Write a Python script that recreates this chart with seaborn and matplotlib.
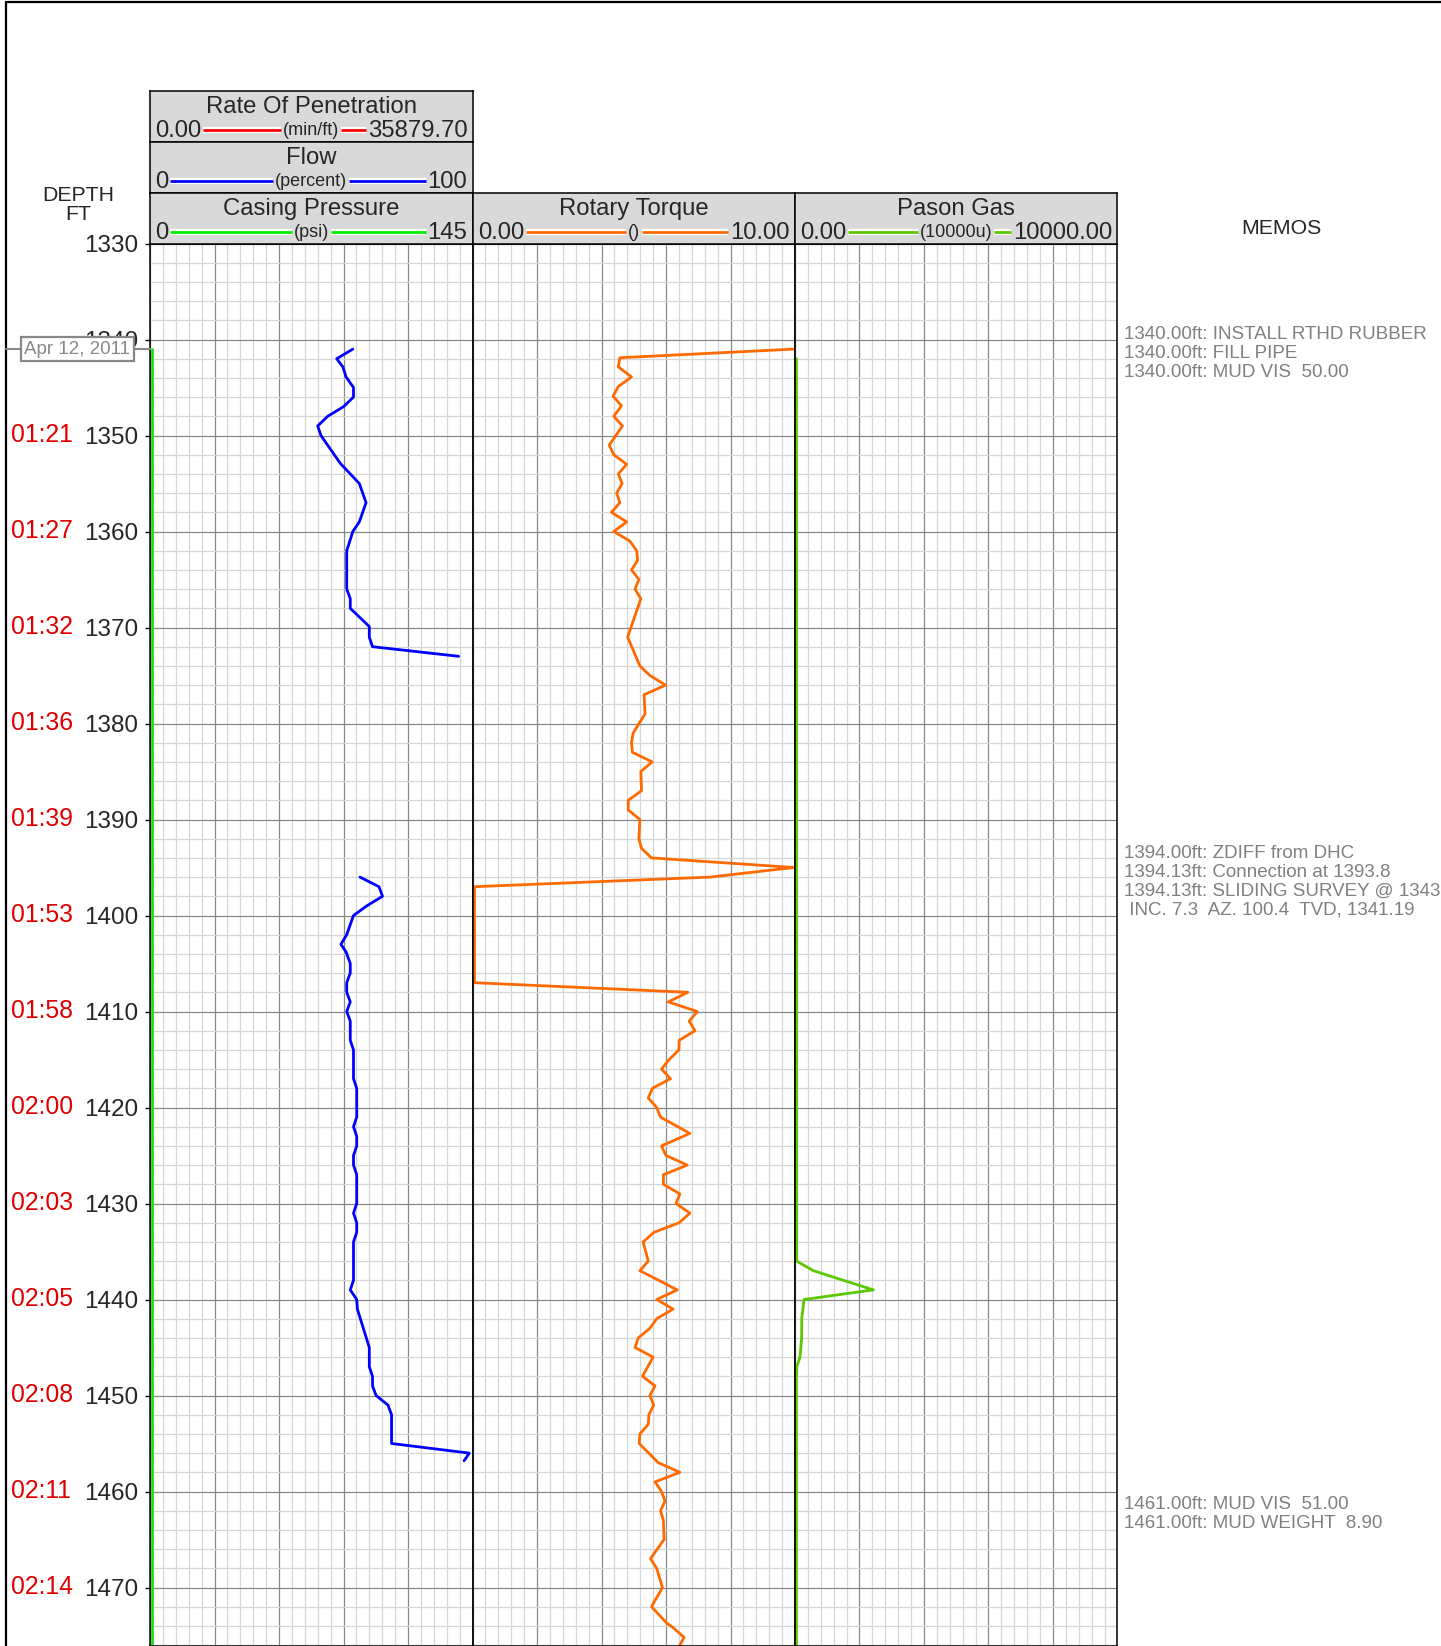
import matplotlib
matplotlib.use("Agg")
import pandas as pd
import matplotlib.pyplot as plt
import matplotlib.patheffects as pe
from matplotlib.lines import Line2D
from matplotlib.transforms import blended_transform_factory
import seaborn as sns

sns.set_style("white")
plt.rcParams['font.family'] = ['Liberation Sans', 'DejaVu Sans']

# Flow (percent), two drilled runs
flow_run1_depth = [1341, 1342, 1342.85, 1343.9, 1345, 1346, 1347, 1348, 1349, 1350, 1352.9, 1355,
                   1357, 1359, 1360, 1362, 1366, 1367, 1368, 1369.9, 1371, 1372, 1373]
flow_run1_pct = [62.9, 57.9, 59.8, 60.8, 63.1, 63.1, 60.0, 55.1, 52.0, 53.0, 59.0, 64.9,
                 67.0, 64.9, 62.9, 61.0, 61.0, 62.1, 62.1, 68.0, 68.0, 69.0, 95.7]
flow_run2_depth = [1396, 1397, 1398, 1399, 1400, 1402, 1403, 1403.8, 1405, 1406, 1407, 1408, 1409,
                   1410, 1411, 1413, 1414, 1417, 1418, 1421, 1422, 1423, 1424, 1425, 1426, 1427,
                   1430, 1431, 1432, 1433, 1434, 1438, 1439, 1440, 1441, 1445, 1447, 1448, 1449,
                   1450, 1451, 1452, 1455, 1456, 1456.8]
flow_run2_pct = [65.1, 71.0, 72.1, 67.2, 63.1, 61.0, 59.2, 60.8, 62.1, 62.1, 61.0, 61.0, 62.1,
                 61.0, 62.1, 62.1, 63.1, 63.1, 64.1, 64.1, 63.1, 64.1, 64.1, 63.1, 63.1, 64.1,
                 64.1, 63.1, 64.1, 64.1, 63.1, 63.1, 62.1, 64.1, 64.3, 68.0, 68.0, 69.0, 69.0,
                 70.1, 73.8, 74.9, 74.9, 99.0, 97.4]

# Rotary torque
torque_depth = [1341.0, 1341.9, 1342.85, 1343.9, 1344.9, 1345.9, 1346.9, 1348, 1349, 1351, 1352,
                1353, 1354, 1355, 1356, 1357, 1358, 1359, 1360, 1361, 1362, 1363, 1364, 1365,
                1366, 1367, 1371, 1374, 1375, 1376, 1377, 1379, 1381, 1382, 1383, 1384, 1385,
                1387, 1388, 1389, 1390, 1392, 1393, 1394, 1395, 1396, 1397, 1407, 1408, 1409,
                1410, 1411, 1412, 1413, 1414, 1415, 1416, 1417, 1418, 1419, 1420, 1421, 1422.7,
                1424, 1425, 1426, 1427, 1428, 1429, 1430, 1431, 1432, 1433, 1434, 1436, 1437,
                1439, 1440, 1441, 1442, 1443, 1444, 1445, 1446, 1448, 1449, 1450, 1451, 1452,
                1453, 1454, 1455, 1457, 1458, 1459, 1460, 1461, 1462, 1463, 1465, 1467, 1468,
                1470, 1472, 1473.7, 1474.2, 1475.2, 1476]
torque_val = [9.97, 4.57, 4.52, 4.93, 4.52, 4.36, 4.62, 4.38, 4.65, 4.24, 4.38,
              4.78, 4.52, 4.64, 4.47, 4.57, 4.31, 4.78, 4.38, 4.88, 5.09, 5.12, 4.93, 5.16,
              5.04, 5.22, 4.81, 5.19, 5.50, 5.99, 5.32, 5.35, 4.98, 4.93, 4.96, 5.57, 5.22,
              5.24, 4.83, 4.83, 5.19, 5.16, 5.24, 5.55, 9.97, 7.36, 0.06, 0.06, 6.68, 6.07,
              6.97, 6.72, 6.90, 6.41, 6.40, 6.10, 5.86, 6.14, 5.58, 5.45, 5.71, 5.83, 6.74,
              5.86, 6.00, 6.66, 5.92, 5.92, 6.43, 6.31, 6.74, 6.41, 5.63, 5.29, 5.45, 5.19,
              6.35, 5.71, 6.22, 5.71, 5.50, 5.14, 5.04, 5.60, 5.27, 5.66, 5.50, 5.62, 5.47,
              5.45, 5.19, 5.17, 5.76, 6.43, 5.66, 5.86, 5.97, 5.83, 5.92, 5.94, 5.52, 5.71,
              5.89, 5.55, 6.02, 6.23, 6.56, 6.43]

# Pason gas
gas_depth = [1342, 1436, 1437, 1439, 1440, 1442, 1444, 1446, 1447, 1448, 1476]
gas_val = [45, 50, 570, 2430, 280, 210, 205, 155, 55, 45, 45]

# Casing pressure
casing_depth = [1341, 1476]
casing_psi = [0.9, 0.9]

depth_ticks = list(range(1330, 1480, 10))
time_depths = [1350, 1360, 1370, 1380, 1390, 1400, 1410, 1420, 1430, 1440, 1450, 1460, 1470]
time_labels = ['01:21', '01:27', '01:32', '01:36', '01:39', '01:53', '01:58',
               '02:00', '02:03', '02:05', '02:08', '02:11', '02:14']
date_depth = 1341
date_label = 'Apr 12, 2011'

memo_depths = [1339.5, 1393.5, 1461.4]
memo_texts = [
    ['1340.00ft: INSTALL RTHD RUBBER', '1340.00ft: FILL PIPE', '1340.00ft: MUD VIS  50.00'],
    ['1394.00ft: ZDIFF from DHC', '1394.13ft: Connection at 1393.8',
     '1394.13ft: SLIDING SURVEY @ 1343', ' INC. 7.3  AZ. 100.4  TVD, 1341.19'],
    ['1461.00ft: MUD VIS  51.00', '1461.00ft: MUD WEIGHT  8.90'],
]

W, H = 1441, 1646
fig = plt.figure(figsize=(W / 100, H / 100), dpi=100)

top_px = 243.5
track_w = 322.5
ylim = (1330 + (H - top_px) / 9.6, 1330)


def make_track(left_px, xmax):
    ax = fig.add_axes([left_px / W, 0, track_w / W, 1 - top_px / H])
    ax.set_xlim(0, xmax)
    ax.set_ylim(*ylim)
    ax.set_xticks([xmax * i / 5 for i in range(6)])
    ax.set_xticks([xmax * i / 25 for i in range(26)], minor=True)
    ax.set_yticks(depth_ticks)
    ax.set_yticks(list(range(1330, 1478, 2)), minor=True)
    ax.grid(which='minor', color='#d6d6d6', lw=0.9)
    ax.grid(which='major', color='#888888', lw=0.9)
    ax.set_axisbelow(True)
    ax.tick_params(which='both', bottom=False, labelbottom=False, left=False, labelleft=False)
    for s in ax.spines.values():
        s.set_color('black')
        s.set_linewidth(1.1)
    return ax


ax1 = make_track(150, 100)
ax2 = make_track(150 + track_w, 10)
ax3 = make_track(150 + 2 * track_w, 10000)

flow_df = pd.DataFrame({
    'depth': flow_run1_depth + flow_run2_depth,
    'pct': flow_run1_pct + flow_run2_pct,
    'run': [1] * len(flow_run1_depth) + [2] * len(flow_run2_depth),
})
sns.lineplot(data=flow_df, x='pct', y='depth', units='run', estimator=None, sort=False,
             orient='y', color='#0000ff', lw=2.0, ax=ax1, legend=False)
# casing pressure on 0-145 scale of the same track
sns.lineplot(x=[p / 145 * 100 for p in casing_psi], y=casing_depth, sort=False, orient='y',
             estimator=None, color='#22dd11', lw=2.0, ax=ax1, legend=False)
sns.lineplot(x=torque_val, y=torque_depth, sort=False, orient='y', estimator=None,
             color='#ff6a00', lw=2.0, ax=ax2, legend=False)
sns.lineplot(x=gas_val, y=gas_depth, sort=False, orient='y', estimator=None,
             color='#5cc800', lw=2.0, ax=ax3, legend=False)

for ax in (ax1, ax2, ax3):
    ax.set_xlabel('')
    ax.set_ylabel('')
    ax.set_ylim(*ylim)

ax1.tick_params(axis='y', which='major', left=True, labelleft=True, length=3.5, width=1,
                pad=5, labelsize=17.5, direction='out', color='black')
ax1.set_yticklabels([str(d) for d in depth_ticks])

# time labels (red) to the left of depth
trans = blended_transform_factory(fig.transFigure, ax1.transData)
for d, t in zip(time_depths, time_labels):
    fig.text(10.5 / W, d, t, transform=trans, color='#e00000', fontsize=17.8,
             ha='left', va='center')

# date marker
fig.add_artist(Line2D([5.5 / W, 150 / W], [date_depth, date_depth], transform=trans,
                      color='#888888', lw=1.5, zorder=2.5))
fig.text(77.5 / W, date_depth, date_label, transform=trans, color='#888888', fontsize=13.5,
         ha='center', va='center', zorder=4,
         bbox=dict(boxstyle='square,pad=0.18', fc='white', ec='#888888', lw=1.6))

# memos
for d, lines in zip(memo_depths, memo_texts):
    for i, line in enumerate(lines):
        fig.text(1124 / W, d + i * 1.97, line, transform=trans, color='#808080',
                 fontsize=13.5, ha='left', va='center')

fig.text(78 / W, 1 - 195.5 / H, 'DEPTH', ha='center', va='center', fontsize=15.3)
fig.text(78 / W, 1 - 215 / H, 'FT', ha='center', va='center', fontsize=15.3)
fig.text(1281 / W, 1 - 228 / H, 'MEMOS', ha='center', va='center', fontsize=15.3)

# frame
fig.add_artist(Line2D([5.5 / W, 5.5 / W], [0, 1 - 2 / H], color='black', lw=1.6))
fig.add_artist(Line2D([5.5 / W, 1], [1 - 2 / H, 1 - 2 / H], color='black', lw=1.6))

# curve headers
headers = [
    # left px, top px, title, left value, unit, right value, colour
    (150, 90.5, 'Rate Of Penetration', '0.00', '(min/ft)', '35879.70', '#ff0000'),
    (150, 141.5, 'Flow', '0', '(percent)', '100', '#0000ff'),
    (150, 192.5, 'Casing Pressure', '0', '(psi)', '145', '#00ee00'),
    (150 + track_w, 192.5, 'Rotary Torque', '0.00', '()', '10.00', '#ff6a00'),
    (150 + 2 * track_w, 192.5, 'Pason Gas', '0.00', '(10000u)', '10000.00', '#5cc800'),
]
made = []
for left, top, title, lv, unit, rv, col in headers:
    hax = fig.add_axes([left / W, 1 - (top + 51) / H, track_w / W, 51 / H])
    hax.set_facecolor('#d9d9d9')
    hax.set_xlim(0, 1)
    hax.set_ylim(0, 1)
    hax.set_xticks([])
    hax.set_yticks([])
    for s in hax.spines.values():
        s.set_color('black')
        s.set_linewidth(1.1)
    hax.text(0.5, 0.68, title, ha='center', va='center', fontsize=17.2)
    tl = hax.text(0.016, 0.21, lv, ha='left', va='center', fontsize=17.2)
    tu = hax.text(0.5, 0.22, unit, ha='center', va='center', fontsize=13)
    tr = hax.text(0.984, 0.21, rv, ha='right', va='center', fontsize=17.2)
    made.append((hax, tl, tu, tr, col))

fig.canvas.draw()
renderer = fig.canvas.get_renderer()
for hax, tl, tu, tr, col in made:
    inv = hax.transAxes.inverted()
    bl = inv.transform(tl.get_window_extent(renderer))
    bu = inv.transform(tu.get_window_extent(renderer))
    br = inv.transform(tr.get_window_extent(renderer))
    gap = 0.006
    y = 0.23
    for x0, x1 in ((bl[1, 0] + gap, bu[0, 0] - gap), (bu[1, 0] + gap, br[0, 0] - gap)):
        hax.plot([x0, x1], [y, y], color=col, lw=2.0, solid_capstyle='butt',
                 path_effects=[pe.withStroke(linewidth=4.5, foreground='white')])

fig.savefig('out.png', dpi=100)
